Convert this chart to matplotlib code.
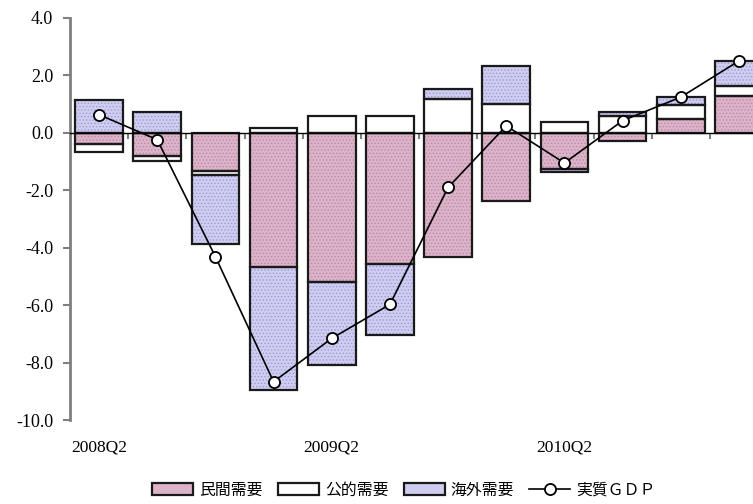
import numpy as np
import matplotlib
matplotlib.use("Agg")
import matplotlib.pyplot as plt
from matplotlib.patches import Patch
from matplotlib.lines import Line2D
import matplotlib.transforms as mtransforms

# 実質GDP成長率（前期比年率寄与度, %）
quarters = ["2008Q2", "2008Q3", "2008Q4", "2009Q1", "2009Q2", "2009Q3",
            "2009Q4", "2010Q1", "2010Q2", "2010Q3", "2010Q4", "2011Q1"]
private_demand = [-0.41, -0.81, -1.34, -4.69, -5.20, -4.59,
                  -4.32, -2.37, -1.28, -0.29, 0.47, 1.28]
public_demand = [-0.26, -0.17, -0.15, 0.17, 0.57, 0.57,
                 1.18, 0.98, 0.35, 0.58, 0.50, 0.33]
foreign_demand = [1.13, 0.72, -2.38, -4.28, -2.89, -2.47,
                  0.32, 1.34, -0.09, 0.13, 0.25, 0.87]
real_gdp = [0.62, -0.25, -4.32, -8.67, -7.16, -5.98,
            -1.91, 0.23, -1.06, 0.41, 1.23, 2.49]

series_names = ["民間需要", "公的需要", "海外需要"]
line_name = "実質ＧＤＰ"
y_ticks = [4.0, 2.0, 0.0, -2.0, -4.0, -6.0, -8.0, -10.0]
x_label_step = 4

face_colors = ["#dcb3c8", "#ffffff", "#cfcdf0"]
dot_colors = ["#b98ba6", "#ffffff", "#9c9ad6"]

num_font = ["Liberation Serif", "DejaVu Serif"]
jp_font = ["Noto Sans CJK JP", "DejaVu Sans"]

plt.rcParams["hatch.linewidth"] = 0.6

fig = plt.figure(figsize=(7.53, 5.04), dpi=100)
ax = fig.add_axes([70 / 753, 84 / 504, 698 / 753, 402.5 / 504])

x = np.arange(len(quarters))
width = 0.82
pos_base = np.zeros(len(quarters))
neg_base = np.zeros(len(quarters))

for vals, fc, dc in zip([private_demand, public_demand, foreign_demand],
                        face_colors, dot_colors):
    v = np.asarray(vals, dtype=float)
    bottom = np.where(v >= 0, pos_base, neg_base)
    hatch = None if fc == "#ffffff" else "....."
    ax.bar(x, v, width, bottom=bottom, color=fc, hatch=hatch,
           edgecolor=dc, linewidth=0, zorder=2)
    ax.bar(x, v, width, bottom=bottom, fill=False,
           edgecolor="#1a1a1a", linewidth=1.6, zorder=3)
    pos_base = pos_base + np.where(v >= 0, v, 0)
    neg_base = neg_base + np.where(v < 0, v, 0)

ax.plot(x, real_gdp, color="black", linewidth=1.2, marker="o",
        markersize=8, markerfacecolor="white", markeredgecolor="black",
        markeredgewidth=1.3, zorder=5)

ax.set_xlim(-0.5, len(quarters) - 0.5)
ax.set_ylim(-10, 4)

# axes styling
for side in ["top", "right"]:
    ax.spines[side].set_visible(False)
ax.spines["left"].set_color("#7f7f7f")
ax.spines["left"].set_linewidth(2)
ax.spines["bottom"].set_position(("data", 0))
ax.spines["bottom"].set_color("black")
ax.spines["bottom"].set_linewidth(1.0)
ax.spines["bottom"].set_zorder(4)

ax.set_yticks(y_ticks)
ax.set_yticklabels([f"{t:.1f}" for t in y_ticks], fontfamily=num_font,
                   fontsize=13)
ax.tick_params(axis="y", direction="out", length=5, width=1.5,
               color="#7f7f7f", pad=7)

ax.set_xticks(x[:-1] + 0.5)
ax.set_xticklabels([])
ax.tick_params(axis="x", direction="out", length=4, width=1.5,
               color="#7f7f7f")

trans = mtransforms.blended_transform_factory(ax.transData, ax.transAxes)
for i in range(0, len(quarters), x_label_step):
    ax.text(x[i], -0.068, quarters[i], transform=trans, ha="center",
            va="center", fontfamily=num_font, fontsize=12.5)

# legend
handles = []
for fc, dc, name in zip(face_colors, dot_colors, series_names):
    h = Patch(facecolor=fc, edgecolor="#1a1a1a", linewidth=1.6, label=name)
    handles.append(h)
handles.append(Line2D([], [], color="black", linewidth=1.2, marker="o",
                      markersize=8, markerfacecolor="white",
                      markeredgecolor="black", markeredgewidth=1.3,
                      label=line_name))
fig.legend(handles=handles, loc="center", ncol=4,
           bbox_to_anchor=(404 / 753, 14 / 504), frameon=False,
           prop={"family": jp_font, "size": 11.4}, handlelength=2.6,
           handleheight=0.78, handletextpad=0.38, columnspacing=0.95)

fig.savefig("out.png", dpi=100)
